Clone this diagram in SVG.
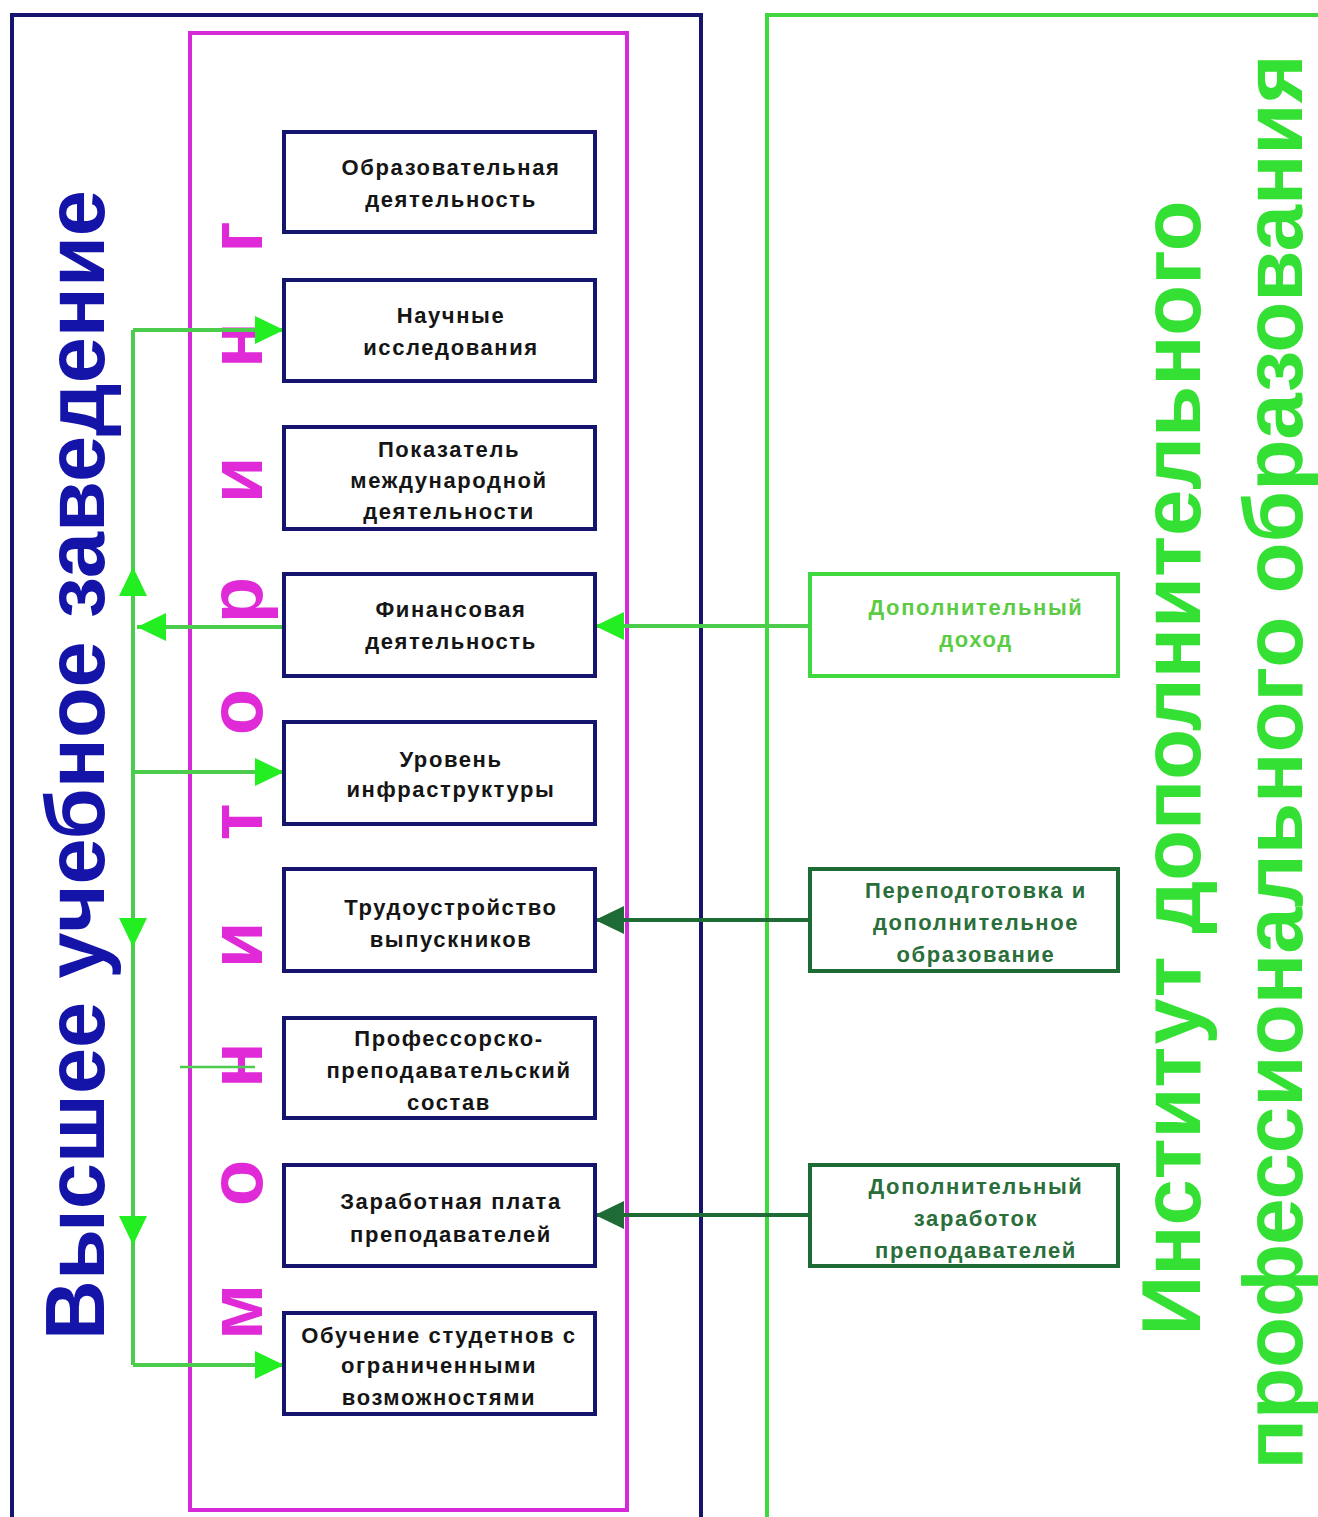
<svg xmlns="http://www.w3.org/2000/svg" width="1318" height="1517" viewBox="0 0 1318 1517">
<defs>
<style>
.frame{fill:none;stroke-width:4}
.node{fill:#fff;stroke:#15156e;stroke-width:4}
.nt{font-family:"Liberation Sans",Arial,sans-serif;font-size:22px;font-weight:bold;fill:#151515;text-anchor:middle;letter-spacing:1.6px}
.side{fill:#fff;stroke-width:4}
.mon{font-family:"Liberation Sans",Arial,sans-serif;font-size:76px;font-weight:bold;fill:#e02ad8;text-anchor:middle}
.big{font-family:"Liberation Sans",Arial,sans-serif;font-size:84px;font-weight:bold;text-anchor:middle}
.lg{stroke:#4ccc4c;stroke-width:4;fill:none}
.dg{stroke:#1e6b36;stroke-width:4;fill:none}
</style>
<marker id="ah" markerWidth="30" markerHeight="30" refX="29" refY="15" orient="auto" markerUnits="userSpaceOnUse"><path d="M0,1 L29,15 L0,29 Z" fill="#22ee22"/></marker>
<marker id="ahd" markerWidth="30" markerHeight="30" refX="29" refY="15" orient="auto" markerUnits="userSpaceOnUse"><path d="M0,1 L29,15 L0,29 Z" fill="#1e6b36"/></marker>
</defs>
<rect width="1318" height="1517" fill="#fff"/>
<g id="frames">
<rect class="frame" x="12" y="15" width="689" height="1520" stroke="#15156e"/>
<rect class="frame" x="190" y="33" width="437" height="1477" stroke="#d42ad8"/>
<rect class="frame" x="767" y="15" width="600" height="1520" stroke="#3fd83f"/>
</g>
<g id="titles">
<text class="big" transform="translate(104,765) rotate(-90)" fill="#1414a8" textLength="1150" lengthAdjust="spacingAndGlyphs">Высшее учебное заведение</text>
<text class="big" transform="translate(1200,768) rotate(-90)" fill="#33e033" textLength="1135" lengthAdjust="spacingAndGlyphs">Институт дополнительного</text>
<text class="big" transform="translate(1302,762) rotate(-90)" fill="#33e033" textLength="1415" lengthAdjust="spacingAndGlyphs">профессионального образования</text>
</g>
<g id="monitoring">
<text class="mon" transform="translate(262,1312) rotate(-90)">м</text>
<text class="mon" transform="translate(262,1183) rotate(-90)">о</text>
<text class="mon" transform="translate(262,1065) rotate(-90)">н</text>
<text class="mon" transform="translate(262,945) rotate(-90)">и</text>
<text class="mon" transform="translate(262,822) rotate(-90)">т</text>
<text class="mon" transform="translate(262,712) rotate(-90)">о</text>
<text class="mon" transform="translate(262,600) rotate(-90)">р</text>
<text class="mon" transform="translate(262,480) rotate(-90)">и</text>
<text class="mon" transform="translate(262,345) rotate(-90)">н</text>
<text class="mon" transform="translate(262,237) rotate(-90)">г</text>
</g>
<g id="connectors">
<path class="lg" d="M133,330 V1365"/>
<path class="lg" d="M133,330 H284" marker-end="url(#ah)"/>
<path class="lg" d="M284,627 H137" marker-end="url(#ah)"/>
<path class="lg" d="M133,610 V567" marker-end="url(#ah)"/>
<path class="lg" d="M133,772 H284" marker-end="url(#ah)"/>
<path class="lg" d="M133,900 V947" marker-end="url(#ah)"/>
<path class="lg" d="M133,1200 V1245" marker-end="url(#ah)"/>
<path class="lg" d="M133,1365 H284" marker-end="url(#ah)"/>
<path d="M180,1067 H255" stroke="#4ccc4c" stroke-width="2.5"/>
<path class="lg" d="M810,626 H595" marker-end="url(#ah)"/>
<path class="dg" d="M810,920 H595" marker-end="url(#ahd)"/>
<path class="dg" d="M810,1215 H595" marker-end="url(#ahd)"/>
</g>
<g id="n1"><rect class="node" x="284" y="132" width="311" height="100"/><text class="nt" x="451" y="175">Образовательная</text><text class="nt" x="451" y="207">деятельность</text></g>
<g id="n2"><rect class="node" x="284" y="280" width="311" height="101"/><text class="nt" x="451" y="323">Научные</text><text class="nt" x="451" y="355">исследования</text></g>
<g id="n3"><rect class="node" x="284" y="427" width="311" height="102"/><text class="nt" x="449" y="457">Показатель</text><text class="nt" x="449" y="488">международной</text><text class="nt" x="449" y="519">деятельности</text></g>
<g id="n4"><rect class="node" x="284" y="574" width="311" height="102"/><text class="nt" x="451" y="617">Финансовая</text><text class="nt" x="451" y="649">деятельность</text></g>
<g id="n5"><rect class="node" x="284" y="722" width="311" height="102"/><text class="nt" x="451" y="767">Уровень</text><text class="nt" x="451" y="797">инфраструктуры</text></g>
<g id="n6"><rect class="node" x="284" y="869" width="311" height="102"/><text class="nt" x="451" y="915">Трудоустройство</text><text class="nt" x="451" y="947">выпускников</text></g>
<g id="n7"><rect class="node" x="284" y="1018" width="311" height="100"/><text class="nt" x="449" y="1046">Профессорско-</text><text class="nt" x="449" y="1078">преподавательский</text><text class="nt" x="449" y="1110">состав</text></g>
<g id="n8"><rect class="node" x="284" y="1165" width="311" height="101"/><text class="nt" x="451" y="1209">Заработная плата</text><text class="nt" x="451" y="1242">преподавателей</text></g>
<g id="n9"><rect class="node" x="284" y="1313" width="311" height="101"/><text class="nt" x="439" y="1343">Обучение студетнов с</text><text class="nt" x="439" y="1373">ограниченными</text><text class="nt" x="439" y="1405">возможностями</text></g>
<g id="s1"><rect class="side" x="810" y="574" width="308" height="102" stroke="#3fd83f"/><text class="nt" x="976" y="615" style="fill:#5ccc44">Дополнительный</text><text class="nt" x="976" y="647" style="fill:#5ccc44">доход</text></g>
<g id="s2"><rect class="side" x="810" y="869" width="308" height="102" stroke="#1e6b36"/><text class="nt" x="976" y="898" style="fill:#2a6e3a">Переподготовка и</text><text class="nt" x="976" y="930" style="fill:#2a6e3a">дополнительное</text><text class="nt" x="976" y="962" style="fill:#2a6e3a">образование</text></g>
<g id="s3"><rect class="side" x="810" y="1165" width="308" height="101" stroke="#1e6b36"/><text class="nt" x="976" y="1194" style="fill:#2a6e3a">Дополнительный</text><text class="nt" x="976" y="1226" style="fill:#2a6e3a">заработок</text><text class="nt" x="976" y="1258" style="fill:#2a6e3a">преподавателей</text></g>
</svg>
